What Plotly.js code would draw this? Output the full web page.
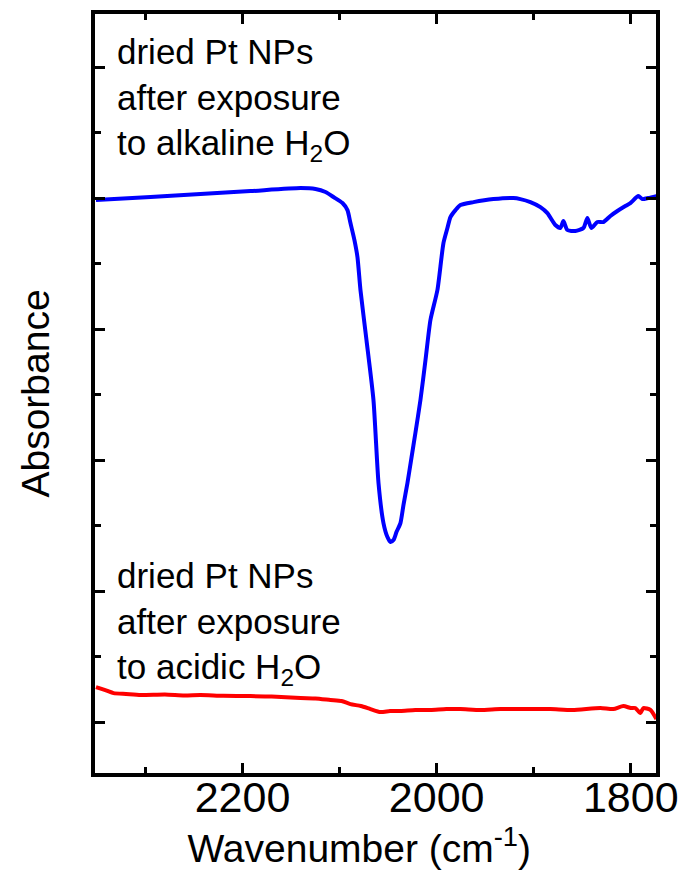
<!DOCTYPE html>
<html>
<head>
<meta charset="utf-8">
<script src="https://cdn.plot.ly/plotly-3.0.1.min.js"></script>
<style>html,body{margin:0;padding:0;background:#fff;}#chart{width:686px;height:880px;}</style>
</head>
<body>
<div id="chart"></div>
<script>
// Blue spectrum: dried Pt NPs after exposure to alkaline H2O
const alkWavenumber = [2351, 2294.7, 2243.3, 2191.8, 2140.3, 2124.8, 2114.5, 2106.3, 2097.0, 2091.9, 2088.8, 2084.7, 2081.6, 2078.5, 2072.3, 2065.1, 2059.9, 2054.8, 2050.7, 2047.6, 2044.5, 2041.4, 2037.3, 2034.2, 2030.1, 2026.0, 2021.9, 2016.7, 2011.5, 2006.4, 1999.2, 1993.0, 1988.9, 1985.8, 1980.6, 1975.5, 1962.1, 1941.5, 1920.9, 1913.7, 1903.4, 1893.1, 1885.9, 1877.7, 1872.5, 1869.4, 1865.3, 1857.1, 1848.8, 1844.7, 1840.6, 1834.4, 1828.2, 1821.0, 1813.8, 1805.6, 1800.4, 1792.2, 1788.1, 1781.9, 1773.6];
const alkAbsorbance = [3.985, 4.008, 4.031, 4.053, 4.076, 4.069, 4.046, 4.008, 3.962, 3.908, 3.809, 3.679, 3.550, 3.298, 2.916, 2.458, 1.824, 1.519, 1.412, 1.374, 1.389, 1.450, 1.519, 1.656, 1.824, 2.015, 2.206, 2.458, 2.763, 3.069, 3.298, 3.656, 3.771, 3.855, 3.908, 3.947, 3.969, 3.992, 4.000, 3.992, 3.969, 3.931, 3.885, 3.794, 3.771, 3.824, 3.756, 3.748, 3.771, 3.847, 3.771, 3.817, 3.817, 3.863, 3.901, 3.939, 3.962, 4.015, 3.992, 4.000, 4.015];

// Red spectrum: dried Pt NPs after exposure to acidic H2O
const acidWavenumber = [2351, 2340, 2332.9, 2320, 2305.0, 2280, 2260, 2243.3, 2220, 2191.8, 2170, 2140.3, 2125, 2109.4, 2098, 2088.8, 2078, 2068.2, 2057.9, 2048, 2037.3, 2022, 2006.4, 1990, 1975.5, 1955, 1934.3, 1910, 1882.8, 1860, 1831.3, 1818, 1807.6, 1800, 1795.3, 1790.1, 1787.0, 1779.8, 1773.6];
const acidAbsorbance = [0.267, 0.240, 0.221, 0.214, 0.206, 0.210, 0.203, 0.206, 0.200, 0.198, 0.195, 0.183, 0.180, 0.168, 0.160, 0.137, 0.122, 0.099, 0.076, 0.084, 0.084, 0.092, 0.092, 0.099, 0.099, 0.092, 0.099, 0.099, 0.099, 0.092, 0.107, 0.099, 0.122, 0.107, 0.107, 0.069, 0.107, 0.092, 0.023];

const xTickVals = [2200, 2000, 1800];
const xTickText = ['2200', '2000', '1800'];
const labelTop = ['dried Pt NPs', 'after exposure', 'to alkaline H<sub>2</sub>O'];
const labelBottom = ['dried Pt NPs', 'after exposure', 'to acidic H<sub>2</sub>O'];

const FONT = 'Arial, "Liberation Sans", sans-serif';

const traces = [
  {x: alkWavenumber, y: alkAbsorbance, mode: 'lines', type: 'scatter',
   line: {color: '#0000ff', width: 4, shape: 'spline', smoothing: 0.6}, showlegend: false, hoverinfo: 'skip'},
  {x: acidWavenumber, y: acidAbsorbance, mode: 'lines', type: 'scatter',
   line: {color: '#ff0000', width: 4, shape: 'spline', smoothing: 0.6}, showlegend: false, hoverinfo: 'skip'}
];

const layout = {
  width: 686, height: 880,
  margin: {l: 95, r: 30, t: 14, b: 107, pad: 0},
  paper_bgcolor: '#fff', plot_bgcolor: '#fff',
  font: {family: FONT, color: '#000'},
  showlegend: false,
  xaxis: {
    range: [2352, 1774],
    tickvals: xTickVals, ticktext: xTickText,
    ticks: 'inside', ticklen: 10, tickwidth: 3, tickcolor: '#000',
    minor: {dtick: 100, tick0: 0, ticks: 'inside', ticklen: 6, tickwidth: 3, tickcolor: '#000'},
    showline: true, linewidth: 4, linecolor: '#000', mirror: 'ticks',
    showgrid: false, zeroline: false,
    ticklabelstandoff: -17,
    tickfont: {size: 43, family: FONT, color: '#000'},
    title: {text: 'Wavenumber (cm<sup>-1</sup>)&nbsp;&nbsp;&nbsp;', font: {size: 39, family: FONT, color: '#000'}, standoff: 1}
  },
  yaxis: {
    range: [-0.389, 5.405],
    dtick: 1, tick0: 0,
    ticks: 'inside', ticklen: 10, tickwidth: 3, tickcolor: '#000',
    minor: {dtick: 0.5, tick0: 0, ticks: 'inside', ticklen: 6, tickwidth: 3, tickcolor: '#000'},
    showline: true, linewidth: 4, linecolor: '#000', mirror: 'ticks',
    showgrid: false, zeroline: false, showticklabels: false,
    title: {text: 'Absorbance', font: {size: 39, family: FONT, color: '#000'}, standoff: 30}
  },
  annotations: [
    {xref: 'paper', yref: 'paper', x: 0.036, y: 0.979, xanchor: 'left', yanchor: 'top', align: 'left',
     showarrow: false, text: labelTop.join('<br>'), font: {size: 35, family: FONT, color: '#000'}},
    {xref: 'paper', yref: 'paper', x: 0.036, y: 0.289, xanchor: 'left', yanchor: 'top', align: 'left',
     showarrow: false, text: labelBottom.join('<br>'), font: {size: 35, family: FONT, color: '#000'}}
  ]
};

Plotly.newPlot('chart', traces, layout, {displayModeBar: false, staticPlot: true});
</script>
</body>
</html>
